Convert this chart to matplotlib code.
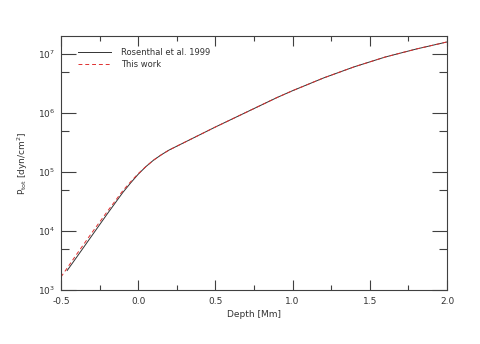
import numpy as np
import matplotlib.pyplot as plt
from matplotlib.ticker import LogLocator, MultipleLocator, FormatStrFormatter, NullFormatter

# Rosenthal et al. 1999
depth_ros = [-0.46, -0.4, -0.3, -0.2, -0.1, -0.05, 0.0, 0.05, 0.1, 0.15, 0.2, 0.3,
             0.4, 0.5, 0.6, 0.7, 0.8, 0.9, 1.0, 1.2, 1.4, 1.6, 1.8, 2.0]
logp_ros = [3.33, 3.55, 3.92, 4.29, 4.65, 4.81, 4.96, 5.09, 5.20, 5.29, 5.37, 5.50,
            5.63, 5.76, 5.885, 6.01, 6.135, 6.26, 6.375, 6.59, 6.78, 6.945, 7.08, 7.20]

# this work
depth_new = [-0.5, -0.4, -0.3, -0.2, -0.1, -0.05, 0.0, 0.05, 0.1, 0.15, 0.2, 0.3,
             0.4, 0.5, 0.6, 0.7, 0.8, 0.9, 1.0, 1.2, 1.4, 1.6, 1.8, 2.0]
logp_new = [3.22, 3.60, 3.97, 4.33, 4.68, 4.83, 4.97, 5.09, 5.20, 5.29, 5.37, 5.50,
            5.63, 5.76, 5.885, 6.01, 6.135, 6.26, 6.375, 6.59, 6.78, 6.945, 7.08, 7.20]

p_ros = 10.0 ** np.array(logp_ros)
p_new = 10.0 ** np.array(logp_new)

plt.rcParams["font.family"] = ["DejaVu Sans"]
plt.rcParams["font.size"] = 6
plt.rcParams["mathtext.default"] = "regular"
axcol = "#404040"

fig = plt.figure(figsize=(4.8, 3.44), dpi=100)
ax = fig.add_axes([61 / 480, 1 - 290 / 344, 386 / 480, 254 / 344])

ax.plot(depth_ros, p_ros, color="#333333", lw=0.7, label="Rosenthal et al. 1999")
ax.plot(depth_new, p_new, color="#e03030", lw=0.7, ls=(0, (4, 3)), label="This work")

ax.set_yscale("log")
ax.set_xlim(-0.5, 2.0)
ax.set_ylim(1e3, 2.0e7)

ax.xaxis.set_major_locator(MultipleLocator(0.5))
ax.xaxis.set_minor_locator(MultipleLocator(0.25))
ax.xaxis.set_major_formatter(FormatStrFormatter("%.1f"))
ax.yaxis.set_major_locator(LogLocator(base=10, numticks=10))
ax.yaxis.set_minor_locator(LogLocator(base=10, subs=[5.0], numticks=10))
ax.yaxis.set_minor_formatter(NullFormatter())

ax.tick_params(which="both", direction="in", top=True, right=True, colors=axcol,
               labelcolor="#333333", width=0.8, labelsize=6.5)
ax.tick_params(axis="x", which="major", length=7.5, pad=5)
ax.tick_params(axis="x", which="minor", length=3.5)
ax.tick_params(axis="y", which="major", length=11, pad=4)
ax.tick_params(axis="y", which="minor", length=5.5)
for s in ax.spines.values():
    s.set_color(axcol)
    s.set_linewidth(0.8)

ax.set_xlabel("Depth [Mm]", color="#333333", fontsize=6.5, labelpad=3)
ax.set_ylabel("P$_{tot}$ [dyn/cm$^2$]", color="#333333", fontsize=6.5, labelpad=6)

leg = ax.legend(loc="upper left", bbox_to_anchor=(0.035, 0.965), frameon=False,
                handlelength=4.0, handletextpad=1.2, labelspacing=0.3,
                fontsize=6, borderaxespad=0)
for t in leg.get_texts():
    t.set_color("#333333")

fig.savefig("out.png", dpi=100)
